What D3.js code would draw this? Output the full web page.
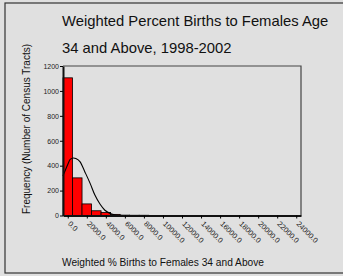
<!DOCTYPE html>
<html lang="en">
<head>
<meta charset="utf-8">
<script src="https://d3js.org/d3.v7.min.js"></script>
<style>
    body { margin: 0; background: #e0e0e0; }
    svg { display: block; font-family: Arial, "Liberation Sans", sans-serif; }
</style>
</head>
<body>
<div id="chart"></div>
<script>
// histogram bins (width 1000, centred on 0, 1000, 2000 ...)
var binCenters = d3.range(0, 25000, 1000);
var counts = [1105, 302, 93, 38, 24, 9, 3, 2, 2, 0, 0, 0, 0, 0, 0, 0, 0, 0, 0, 0, 0, 0, 0, 0, 0];
var binWidth = 1000;

// fitted normal curve
var curveX = [-500, 0, 250, 600, 850, 1300, 1800, 2350, 2850, 3400, 3900, 4600, 5300, 6500];
var curveY = [318, 410, 450, 462, 458, 430, 350, 258, 164, 90, 42, 12, 2, 0];

var yTicks = [0, 200, 400, 600, 800, 1000, 1200];
var xTicks = d3.range(0, 24001, 2000);

var W = 343, H = 276;
var svg = d3.select("#chart").append("svg")
    .attr("width", W).attr("height", H);

// outer frame
svg.append("rect")
    .attr("x", 5).attr("y", 3).attr("width", W).attr("height", 270)
    .attr("fill", "#e0e0e0").attr("stroke", "#333").attr("stroke-width", 1.2);

var plotL = 63, plotR = 301, plotT = 66, plotB = 215.5;

var x = d3.scaleLinear().domain([-500, 24500]).range([plotL, plotR]);
var y = d3.scaleLinear().domain([0, 1200]).range([plotB, plotT]);

// title
svg.append("text").attr("x", 62).attr("y", 26)
    .attr("font-size", 14.8).attr("fill", "#111")
    .text("Weighted Percent Births to Females Age");
svg.append("text").attr("x", 62).attr("y", 53)
    .attr("font-size", 14.8).attr("fill", "#111")
    .text("34 and Above, 1998-2002");

// frame top and right
svg.append("path")
    .attr("d", "M" + plotL + "," + plotT + "H" + plotR + "V" + plotB)
    .attr("fill", "none").attr("stroke", "#444").attr("stroke-width", 1.2);

// bars
svg.selectAll(".bar").data(counts).enter().append("rect")
    .attr("class", "bar")
    .attr("x", function (d, i) { return x(binCenters[i] - binWidth / 2); })
    .attr("width", x(binWidth) - x(0))
    .attr("y", function (d) { return y(d); })
    .attr("height", function (d) { return plotB - y(d); })
    .attr("fill", "#ff0000")
    .attr("stroke", function (d) { return d > 0 ? "#000" : "none"; })
    .attr("stroke-width", 0.8);

// normal curve
var pts = curveX.map(function (v, i) { return [v, curveY[i]]; });
svg.append("path")
    .datum(pts)
    .attr("fill", "none").attr("stroke", "#000").attr("stroke-width", 1.1)
    .attr("d", d3.line()
        .x(function (d) { return x(d[0]); })
        .y(function (d) { return y(d[1]); })
        .curve(d3.curveMonotoneX));

// y axis
var yAxis = svg.append("g")
    .attr("transform", "translate(" + plotL + ",0)")
    .call(d3.axisLeft(y).tickValues(yTicks).tickSize(3).tickSizeOuter(0)
        .tickFormat(d3.format("d")));
yAxis.select(".domain").attr("stroke", "#111").attr("stroke-width", 2);
yAxis.selectAll("text").attr("font-size", 7).attr("fill", "#222")
    .attr("font-family", "Arial, 'Liberation Sans', sans-serif").attr("x", -4);

// x axis
var xAxis = svg.append("g")
    .attr("transform", "translate(0," + plotB + ")")
    .call(d3.axisBottom(x).tickValues(xTicks).tickSize(3).tickSizeOuter(0)
        .tickFormat(d3.format(".1f")));
xAxis.select(".domain").attr("stroke", "#111").attr("stroke-width", 2);
xAxis.selectAll("text")
    .attr("font-size", 7.5).attr("fill", "#222")
    .attr("font-family", "Arial, 'Liberation Sans', sans-serif")
    .attr("text-anchor", "start")
    .attr("x", 0).attr("y", 0).attr("dy", "0.35em")
    .attr("transform", "translate(1,7) rotate(45)");

// axis titles
svg.append("text")
    .attr("transform", "translate(30,129) rotate(-90)")
    .attr("text-anchor", "middle").attr("font-size", 10).attr("fill", "#111")
    .text("Frequency (Number of Census Tracts)");
svg.append("text").attr("x", 62).attr("y", 266)
    .attr("font-size", 10.2).attr("fill", "#111")
    .text("Weighted % Births to Females 34 and Above");
</script>
</body>
</html>
